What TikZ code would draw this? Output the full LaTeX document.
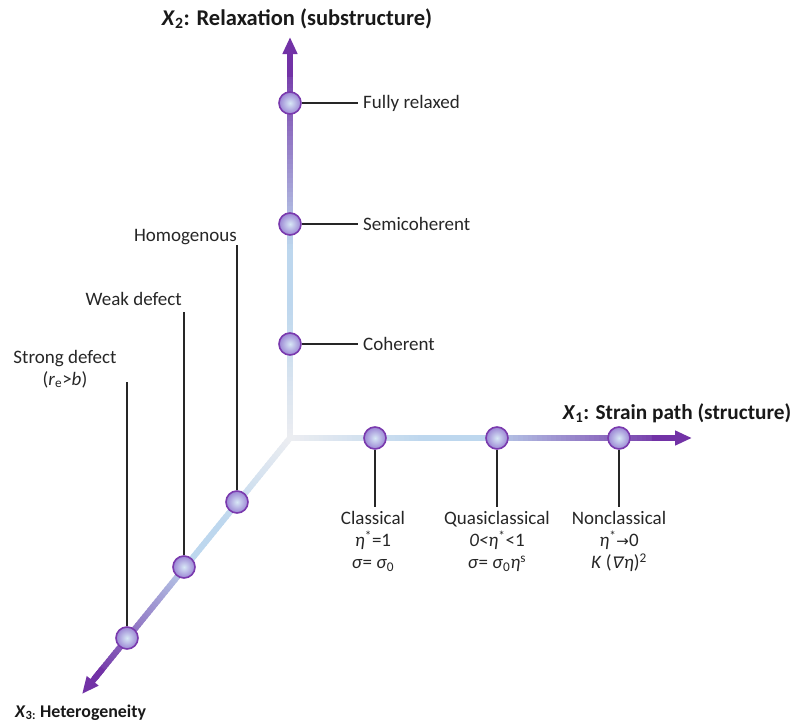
\documentclass[tikz,border=0pt]{standalone}
\usepackage{fontspec}
\setmainfont{Carlito}
\newfontfamily\dejavu{DejaVu Sans}
\newfontfamily\dejavusl[FakeSlant=0.2]{DejaVu Sans}
\usetikzlibrary{calc,arrows.meta}
\definecolor{gr}{HTML}{ECEDF1}
\definecolor{lb}{HTML}{BDD7EE}
\definecolor{pu}{HTML}{7232A6}
\definecolor{dotin}{HTML}{D8E8F6}
\definecolor{dotout}{HTML}{9A84D4}
\definecolor{dotrim}{HTML}{7A3AAE}
\newcommand\gradaxis[2]{%
  \foreach \i in {0,...,79}{%
    \pgfmathsetmacro\ta{\i/80}%
    \pgfmathsetmacro\tb{min(1,(\i+1.4)/80)}%
    \pgfmathsetmacro\tm{(\i+0.5)/80}%
    \pgfmathsetmacro\pa{min(100,max(0,\tm/0.35*100))}%
    \pgfmathsetmacro\pb{min(100,max(0,(\tm-0.5)/0.5*100))}%
    \colorlet{segc}{lb!\pa!gr}\colorlet{segc}{pu!\pb!segc}%
    \draw[line width=6pt, segc] ($(#1)!\ta!(#2)$) -- ($(#1)!\tb!(#2)$);
  }}
\tikzset{
  dot/.style={circle, minimum size=22pt, inner sep=0pt, draw=dotrim, line width=1.6pt,
    inner color=dotin, outer color=dotout},
  lbl/.style={font=\fontsize{19}{22}\selectfont, inner sep=0pt, text=black!85},
  ttl/.style={inner sep=0pt, text=black!90},
  lead/.style={line width=1.2pt, black!85},
  axarrow/.style={line width=6pt, pu, -{Triangle[length=17pt,width=14pt]}},
}
\begin{document}
\begin{tikzpicture}[x=1pt,y=-1pt]
\useasboundingbox (0,0) rectangle (793,723);
% axes
\coordinate (O) at (290,438);
\coordinate (T2) at (290,37);
\coordinate (E2) at (290,60);
\coordinate (T1) at (692,438);
\coordinate (E1) at (670,438);
\coordinate (T3) at (82,694);
\coordinate (E3) at ($(O)!0.94!(T3)$);
\gradaxis{O}{E2}
\gradaxis{O}{E1}
\gradaxis{O}{E3}
\draw[axarrow] ($(O)!0.9!(T2)$) -- (T2);
\draw[axarrow] ($(O)!0.9!(T1)$) -- (T1);
\draw[axarrow] ($(O)!0.9!(T3)$) -- (T3);
% titles
\node[ttl, font=\fontsize{22.5}{26}\selectfont\bfseries, anchor=base] (t2) at (297,25) {\textit{X}\textsubscript{2}: Relaxation (substructure)};
\node[ttl, font=\fontsize{21.3}{25}\selectfont\bfseries, anchor=base] (t1) at (677,419) {\textit{X}\textsubscript{1}: Strain path (structure)};
\node[ttl, font=\fontsize{17.9}{22}\selectfont\bfseries, anchor=base west] (t3) at (15,717) {\textit{X}\textsubscript{3:} Heterogeneity};
% X2 points
\node[dot] (v1) at (290,103) {};
\node[dot] (v2) at (290,224) {};
\node[dot] (v3) at (290,344) {};
\node[lbl, anchor=west] (lv1) at (363,103) {Fully relaxed};
\node[lbl, anchor=west] (lv2) at (363,224) {Semicoherent};
\node[lbl, anchor=west] (lv3) at (363,344) {Coherent};
\draw[lead] (v1.east) -- ($(lv1.west)+(-5,0)$);
\draw[lead] (v2.east) -- ($(lv2.west)+(-5,0)$);
\draw[lead] (v3.east) -- ($(lv3.west)+(-5,0)$);
% X1 points
\node[dot] (h1) at (375,438) {};
\node[dot] (h2) at (497,438) {};
\node[dot] (h3) at (619,438) {};
\node[lbl, align=center, anchor=north] (lh1) at (373,511)
  {Classical\\\textit{η}\textsuperscript{*}=1\\\textit{σ}= \textit{σ}\textsubscript{0}};
\node[lbl, align=center, anchor=north] (lh2) at (497,511)
  {Quasiclassical\\\textit{0<η}\textsuperscript{*}<1\\\textit{σ}= \textit{σ}\textsubscript{0}\textit{η}\textsuperscript{s}};
\node[lbl, align=center, anchor=north] (lh3) at (619,511)
  {Nonclassical\\\textit{η}\textsuperscript{*}{\dejavu\fontsize{15}{18}\selectfont →}0\\\textit{K} ({\dejavusl\fontsize{16}{18}\selectfont ∇}\kern1.5pt\textit{η})\textsuperscript{2}};
\draw[lead] (h1.south) -- (h1.south |- 0,507);
\draw[lead] (h2.south) -- (h2.south |- 0,507);
\draw[lead] (h3.south) -- (h3.south |- 0,507);
% X3 points
\node[dot] (d1) at (237,502) {};
\node[dot] (d2) at (184,567) {};
\node[dot] (d3) at (127,638) {};
\node[lbl, anchor=base east] (ld1) at (237,241) {Homogenous};
\node[lbl, anchor=base east] (ld2) at (182,305) {Weak defect};
\node[lbl, align=center, anchor=north] (ld3) at (65,350) {Strong defect\\(\textit{r}\textsubscript{e}>\textit{b})};
\draw[lead] (d1.north) -- (d1.north |- 0,245);
\draw[lead] (d2.north) -- (d2.north |- 0,312);
\draw[lead] (d3.north) -- (d3.north |- 0,382);
\end{tikzpicture}
\end{document}
